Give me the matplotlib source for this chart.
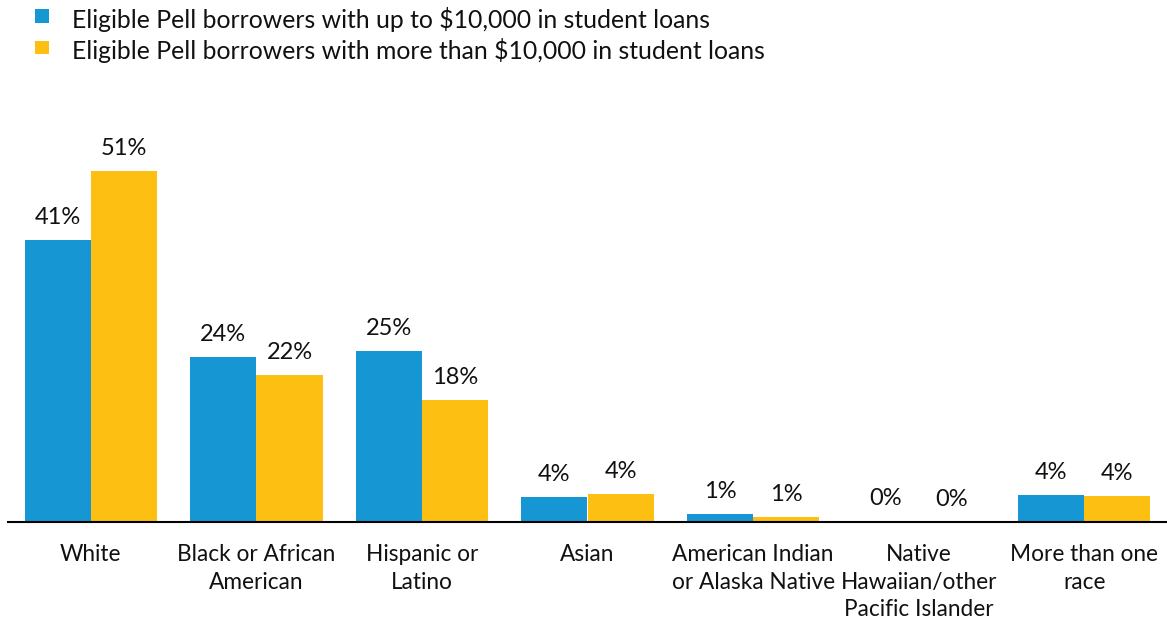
import matplotlib
matplotlib.use("Agg")
import matplotlib.pyplot as plt
from matplotlib.patches import Rectangle
import numpy as np

plt.rcParams['font.family'] = ['Lato', 'DejaVu Sans']

categories = ["White", "Black or African\nAmerican", "Hispanic or\nLatino", "Asian",
              "American Indian\nor Alaska Native", "Native\nHawaiian/other\nPacific Islander",
              "More than one\nrace"]
series_names = ["Eligible Pell borrowers with up to $10,000 in student loans",
                "Eligible Pell borrowers with more than $10,000 in student loans"]
up_to_10k = [41.0, 24.1, 24.9, 3.6, 1.2, 0.2, 4.0]
over_10k = [51.1, 21.4, 17.7, 4.1, 0.8, 0.05, 3.8]
up_to_10k_labels = ["41%", "24%", "25%", "4%", "1%", "0%", "4%"]
over_10k_labels = ["51%", "22%", "18%", "4%", "1%", "0%", "4%"]

BLUE = "#1696D2"
YELLOW = "#FDBF11"
TXT = "#111111"

W, H = 1167, 620
fig = plt.figure(figsize=(W / 100, H / 100), dpi=100)
ax_left, ax_right = 8, 1167
ax_bottom, ax_top = 522, 110
ax = fig.add_axes([ax_left / W, (H - ax_bottom) / H,
                   (ax_right - ax_left) / W, (ax_bottom - ax_top) / H])

x = np.arange(len(categories))
bw = 0.4
b1 = ax.bar(x - bw / 2, up_to_10k, width=bw, color=BLUE, zorder=2)
b2 = ax.bar(x + bw / 2, over_10k, width=bw, color=YELLOW, zorder=2)

for bars, labels in ((b1, up_to_10k_labels), (b2, over_10k_labels)):
    for rect, lab in zip(bars, labels):
        ax.annotate(lab, (rect.get_x() + rect.get_width() / 2, rect.get_height()),
                    xytext=(0, 16), textcoords="offset pixels",
                    ha="center", va="baseline", fontsize=17, color=TXT)

ax.set_xlim(-0.5, 6.5)
ax.set_ylim(0, 60)
ax.set_yticks([])
ax.set_xticks(x)
ax.set_xticklabels(categories, fontsize=16.3, color=TXT, linespacing=1.38)
ax.tick_params(axis="x", length=0, pad=16)
for s in ("top", "right", "left"):
    ax.spines[s].set_visible(False)
ax.spines["bottom"].set_linewidth(1.5)
ax.spines["bottom"].set_color("black")
ax.spines["bottom"].set_zorder(3)

# Legend
for i, (name, col) in enumerate(zip(series_names, [BLUE, YELLOW])):
    top = 9 + i * 31.7
    fig.add_artist(Rectangle((35 / W, (H - top - 13.5) / H), 14 / W, 13.5 / H,
                             transform=fig.transFigure, color=col, lw=0))
    base = 28 + i * 30.6
    fig.text(71.5 / W, (H - base) / H, name, fontsize=17.8, color=TXT,
             ha="left", va="baseline")

fig.savefig("out.png", dpi=100)
